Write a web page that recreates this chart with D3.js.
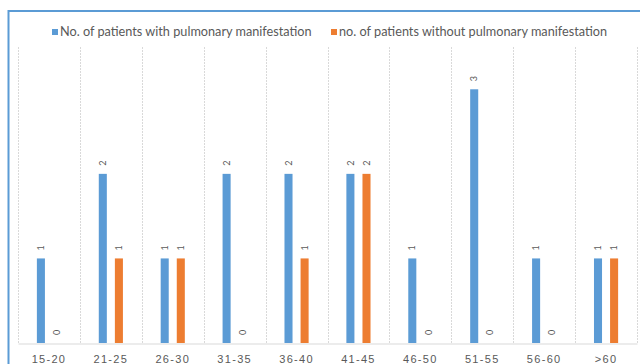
<!DOCTYPE html>
<html>
<head>
<meta charset="utf-8">
<script src="https://cdnjs.cloudflare.com/ajax/libs/d3/7.8.5/d3.min.js"></script>
<style>
  body { margin: 0; background: #fff; }
  svg { display: block; font-family: Lato, "Open Sans", sans-serif; }
</style>
</head>
<body>
<div class="barChart"></div>
<script>
const WIDTH = 640;
const HEIGHT = 364;

var ageGroups = ['15-20', '21-25', '26-30', '31-35', '36-40', '41-45', '46-50', '51-55', '56-60', '>60'];
var withPulmonary = [1, 2, 1, 2, 2, 2, 1, 3, 1, 1];
var withoutPulmonary = [0, 1, 1, 0, 1, 2, 0, 0, 0, 1];
var seriesNames = ['No. of patients with pulmonary manifestation', 'no. of patients without pulmonary manifestation'];
var seriesColors = ['#5B9BD5', '#ED7D31'];

var rows = ageGroups.map(function (g, i) {
    return {group: g, values: [withPulmonary[i], withoutPulmonary[i]]};
});

var xScale = d3.scaleBand().domain(ageGroups).range([18, 637]).padding(0);
var subScale = d3.scaleBand().domain([0, 1])
    .range([xScale.bandwidth() * 0.305, xScale.bandwidth() * 0.695])
    .paddingInner(0.5).paddingOuter(0);
var yScale = d3.scaleLinear().domain([0, 3.5]).range([343, 47]);

var svg = d3.select('.barChart').append('svg')
    .attr('width', WIDTH)
    .attr('height', HEIGHT);

// frame
svg.append('path')
    .attr('d', 'M8.5,' + HEIGHT + 'V11H' + WIDTH)
    .attr('fill', 'none')
    .attr('stroke', '#5B9BD5')
    .attr('stroke-width', 2);

// vertical gridlines between categories
var bounds = ageGroups.map(function (g) { return xScale(g); }).concat([xScale.range()[1]]);
svg.append('g').selectAll('line').data(bounds).enter().append('line')
    .attr('x1', function (d) { return Math.round(d) + 0.5; })
    .attr('x2', function (d) { return Math.round(d) + 0.5; })
    .attr('y1', yScale(3.5))
    .attr('y2', yScale(0))
    .attr('stroke', '#d9d9d9')
    .attr('stroke-dasharray', '2,1');

// x axis
var xAxis = d3.axisBottom(xScale).tickSize(0).tickPadding(12);
var xAxisG = svg.append('g')
    .attr('transform', 'translate(0,' + (yScale(0) + 0.5) + ')')
    .call(xAxis);
xAxisG.select('.domain').attr('stroke', '#d9d9d9');
xAxisG.selectAll('text')
    .attr('fill', '#595959')
    .style('font-size', '11px')
    .style('letter-spacing', '1.3px');

// bars
var groups = svg.append('g').selectAll('g').data(rows).enter().append('g')
    .attr('transform', function (d) { return 'translate(' + xScale(d.group) + ',0)'; });

groups.selectAll('rect').data(function (d) { return d.values; }).enter().append('rect')
    .attr('x', function (v, i) { return subScale(i); })
    .attr('width', subScale.bandwidth())
    .attr('y', function (v) { return yScale(v); })
    .attr('height', function (v) { return yScale(0) - yScale(v); })
    .attr('fill', function (v, i) { return seriesColors[i]; });

groups.selectAll('text').data(function (d) { return d.values; }).enter().append('text')
    .attr('transform', function (v, i) {
        var cx = subScale(i) + subScale.bandwidth() / 2;
        return 'translate(' + cx + ',' + (yScale(v) - 8) + ') rotate(-90)';
    })
    .attr('dy', '0.35em')
    .attr('fill', '#595959')
    .style('font-size', '9px')
    .text(function (v) { return v; });

// legend
var legendX = [52, 331];
var legend = svg.append('g').selectAll('g').data(seriesNames).enter().append('g')
    .attr('transform', function (d, i) { return 'translate(' + legendX[i] + ',32)'; });
legend.append('rect')
    .attr('x', 0).attr('y', -3)
    .attr('width', 6).attr('height', 6)
    .attr('fill', function (d, i) { return seriesColors[i]; });
legend.append('text')
    .attr('x', 8)
    .attr('dy', '0.35em')
    .attr('fill', '#595959')
    .style('font-size', '12.7px')
    .text(function (d) { return d; });
</script>
</body>
</html>
